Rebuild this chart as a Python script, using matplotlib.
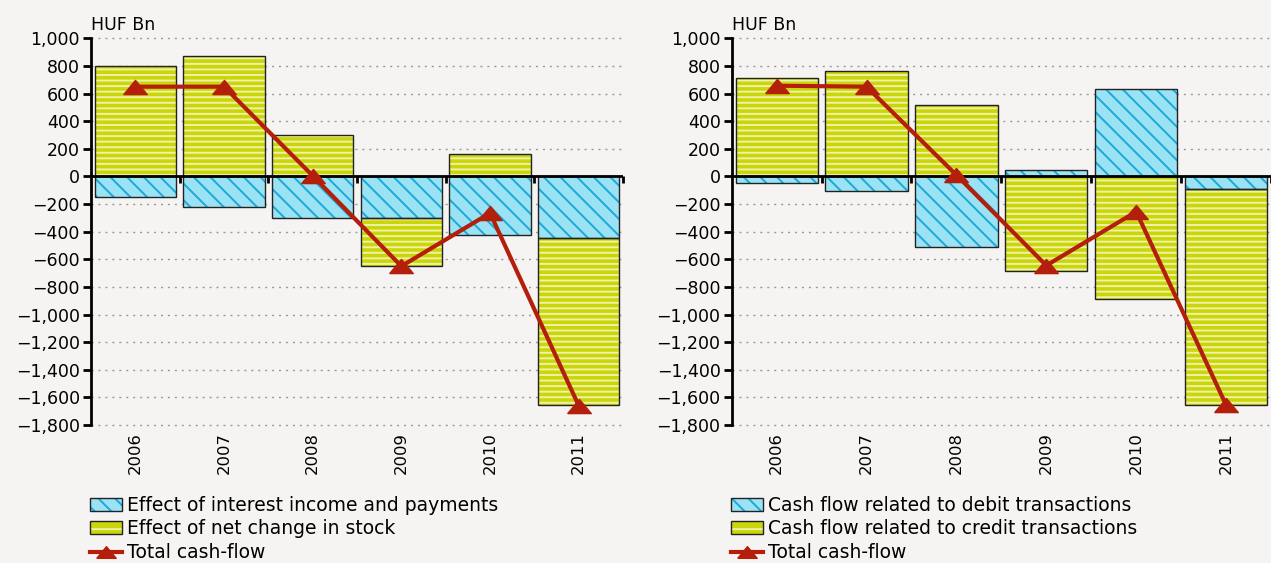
import numpy as np
import matplotlib
matplotlib.use("Agg")
from matplotlib import pyplot as plt
from matplotlib.patches import Patch
from matplotlib.lines import Line2D
from matplotlib.ticker import FuncFormatter, MultipleLocator

years = ['2006', '2007', '2008', '2009', '2010', '2011']

# left panel
interest = [-148, -220, -299, -304, -425, -444]
stock = [799, 872, 301, -342, 161, -1210]
total_left = [650, 650, 5, -650, -265, -1660]

# right panel
debit = [-50, -104, -508, 45, 632, -91]
credit = [710, 763, 520, -688, -890, -1564]
total_right = [657, 650, 10, -645, -255, -1655]

BG = '#f5f4f2'
CYAN = '#9be2f4'
CYAN_H = '#1aa9d8'
YEL = '#cbd60a'
YEL_H = '#eef2a6'
RED = '#b41f0c'

# wide, flat triangle like the original marker
TRI = [(-1.0, -0.6), (1.0, -0.6), (0.0, 0.6), (-1.0, -0.6)]

plt.rcParams['font.family'] = 'DejaVu Sans'
plt.rcParams['font.size'] = 12.5
plt.rcParams['hatch.linewidth'] = 1.4

fig = plt.figure(figsize=(12.71, 5.63), dpi=100, facecolor=BG)


def fmt(v, pos):
    return f'{v:,.0f}'.replace('-', '\u2212')


def stacked(ax, first, second):
    x = np.arange(len(years))
    first = np.array(first, dtype=float)
    second = np.array(second, dtype=float)
    # second series stacks on the first when signs agree
    base = np.where(np.sign(second) == np.sign(first), first, 0)
    w = 0.915
    ax.bar(x, first, w, color=CYAN, edgecolor=CYAN_H, hatch='\\\\', lw=0, zorder=2)
    ax.bar(x, first, w, fill=False, edgecolor='#222222', lw=1.0, zorder=3)
    ax.bar(x, second, w, bottom=base, color=YEL, edgecolor=YEL_H, hatch='---', lw=0, zorder=2)
    ax.bar(x, second, w, bottom=base, fill=False, edgecolor='#222222', lw=1.0, zorder=3)


def panel(rect, first, second, total, labels):
    ax = fig.add_axes(rect)
    ax.set_facecolor(BG)
    x = np.arange(len(years))
    stacked(ax, first, second)
    ax.plot(x, total, color=RED, lw=3, marker=TRI, ms=17, zorder=5)

    ax.set_xlim(-0.5, len(years) - 0.5)
    ax.set_ylim(-1800, 1000)
    ax.yaxis.set_major_locator(MultipleLocator(200))
    ax.yaxis.set_major_formatter(FuncFormatter(fmt))
    ax.yaxis.grid(True, ls=(0, (1.5, 3.5)), color='#9a9a9a', lw=1.0, zorder=0, clip_on=False)
    ax.set_axisbelow(True)

    for s in ['top', 'right', 'bottom']:
        ax.spines[s].set_visible(False)
    ax.spines['left'].set_linewidth(2)
    ax.tick_params(axis='y', length=6, width=2, pad=2)

    ax.set_xticks(x)
    ax.set_xticklabels(years, rotation=90, fontsize=11.8)
    ax.tick_params(axis='x', length=0, pad=5)

    # zero line with category separators
    ax.axhline(0, color='black', lw=2, zorder=4)
    bounds = np.arange(len(years) + 1) - 0.5
    ax.plot(bounds[1:], np.zeros(len(bounds) - 1), ls='none', marker=3,
            ms=5, mew=2, color='black', zorder=4, clip_on=False)

    ax.text(0, 1.012, 'HUF Bn', transform=ax.transAxes, ha='left', va='bottom')

    h1 = (Patch(facecolor=CYAN, edgecolor=CYAN_H, hatch='\\\\', lw=0),
          Patch(fill=False, edgecolor='#222222', lw=1.0))
    h2 = (Patch(facecolor=YEL, edgecolor=YEL_H, hatch='--', lw=0),
          Patch(fill=False, edgecolor='#222222', lw=1.0))
    h3 = Line2D([], [], color=RED, lw=3, marker=TRI, ms=14)
    ax.legend([h1, h2, h3], labels, loc='upper left', bbox_to_anchor=(-0.002, -0.183),
              frameon=False, borderpad=0, borderaxespad=0, handlelength=1.7,
              handleheight=0.68, handletextpad=0.3, labelspacing=0.25, fontsize=13.5)
    return ax


panel([0.0716, 0.2451, 0.4186, 0.6868], interest, stock, total_left,
      ['Effect of interest income and payments', 'Effect of net change in stock',
       'Total cash-flow'])
panel([0.5757, 0.2451, 0.4243, 0.6868], debit, credit, total_right,
      ['Cash flow related to debit transactions', 'Cash flow related to credit transactions',
       'Total cash-flow'])

fig.savefig('out.png', dpi=100, facecolor=BG)
